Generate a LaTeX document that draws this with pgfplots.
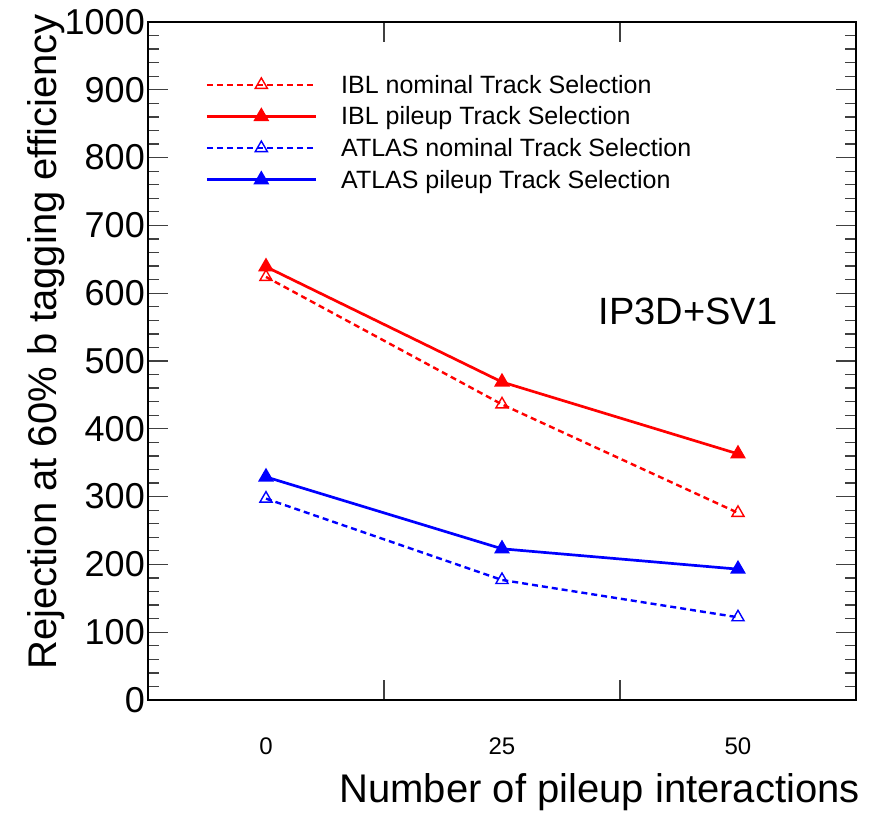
\documentclass[border=0pt]{standalone}
\usepackage{pgfplots}
\pgfplotsset{compat=1.18}
\usepackage{fontspec}
\setmainfont{Liberation Sans}

\definecolor{rootred}{RGB}{255,0,0}
\definecolor{rootblue}{RGB}{0,0,255}

\begin{document}
\begin{tikzpicture}
% frame of the picture: axis box starts at (0,0), 708 x 678
\path[use as bounding box] (-148pt,-114pt) rectangle (731pt,700pt);
\begin{axis}[
  at={(0,0)}, anchor=south west,
  scale only axis,
  width=708pt, height=678pt,
  xmin=-12.5, xmax=62.5,
  ymin=0, ymax=1000,
  xtick={12.5,37.5},
  xticklabels={},
  extra x ticks={0,25,50},
  extra x tick labels={0,25,50},
  extra x tick style={major tick length=0pt,
    xticklabel style={font=\fontsize{24}{24}\selectfont, yshift=-34pt}},
  ytick={0,100,...,1000},
  minor y tick num=4,
  tick align=inside,
  major tick length=20pt,
  minor tick length=11pt,
  every tick/.style={black!75, line width=1.3pt},
  axis line style={line width=1.6pt},
  yticklabel style={font=\fontsize{36}{36}\selectfont, inner sep=0pt, xshift=-3pt},
  /pgf/number format/assume math mode=true,
  /pgf/number format/1000 sep={},
  legend cell align=left,
  legend style={draw=none, fill=none, at={(axis cs:-6.75,925)}, anchor=north west,
    font=\fontsize{25}{25}\selectfont, row sep=12pt,
    nodes={inner sep=0pt},
    /tikz/every odd column/.append style={column sep=24pt}},
  legend image code/.code={
    \draw[mark repeat=2,mark phase=2] plot coordinates {(0pt,0pt)(54.5pt,0pt)(109pt,0pt)};
  },
]
\addplot[rootred, line width=2.4pt, dash pattern=on 6pt off 4pt,
  mark=triangle, mark size=7pt, mark options={solid, fill=white, line width=1.4pt}]
  coordinates {(0,624) (25,436) (50,276)};
\addlegendentry{IBL nominal Track Selection}
\addplot[rootred, line width=2.7pt,
  mark=triangle*, mark size=6.5pt, mark options={solid}]
  coordinates {(0,639) (25,469) (50,363)};
\addlegendentry{IBL pileup Track Selection}
\addplot[rootblue, line width=2.4pt, dash pattern=on 6pt off 4pt,
  mark=triangle, mark size=7pt, mark options={solid, fill=white, line width=1.4pt}]
  coordinates {(0,297) (25,177) (50,122)};
\addlegendentry{ATLAS nominal Track Selection}
\addplot[rootblue, line width=2.7pt,
  mark=triangle*, mark size=6.5pt, mark options={solid}]
  coordinates {(0,329) (25,223) (50,193)};
\addlegendentry{ATLAS pileup Track Selection}
\end{axis}
% labels
\node[rotate=90, anchor=base east, inner sep=0pt, font=\fontsize{40}{40}\selectfont]
  at (-91pt,686pt) {Rejection at 60\% b tagging efficiency};
\node[anchor=base east, inner sep=0pt, font=\fontsize{40}{40}\selectfont]
  at (712pt,-103pt) {Number of pileup interactions};
\node[anchor=base, inner sep=0pt, font=\fontsize{38}{38}\selectfont]
  at (540pt,375pt) {IP3D+SV1};
\end{tikzpicture}
\end{document}
